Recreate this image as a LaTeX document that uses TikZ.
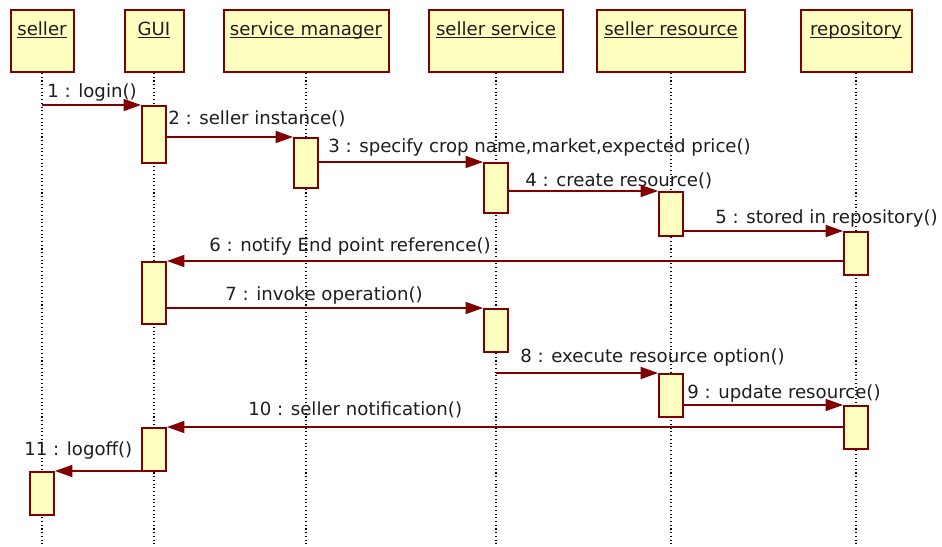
\documentclass[tikz,border=0pt]{standalone}
\usepackage{fontspec}
\setmainfont{DejaVu Sans}
\usetikzlibrary{arrows.meta}
\definecolor{umlborder}{HTML}{800000}
\definecolor{umlfill}{HTML}{FFFFC0}
\definecolor{umlline}{HTML}{A02828}
\definecolor{umltext}{HTML}{1E1E1E}
\newcommand{\objname}[1]{\underline{\smash{#1}}}
\tikzset{
  headbox/.style={draw=umlborder, line width=1.5pt, fill=umlfill, minimum height=46.5pt, inner sep=0pt},
  actbox/.style={draw=umlborder, line width=1.5pt, fill=umlfill, minimum width=18pt, inner sep=0pt},
  lifeline/.style={draw=black, line width=0.8pt, dotted},
  msg/.style={draw=umlline, line width=1pt, -{Triangle[length=13pt,width=9pt]}, umlborder},
  msgtext/.style={anchor=west, inner sep=0pt, text=umltext, font=\fontsize{13.6pt}{15pt}\selectfont},
  headtext/.style={anchor=base, inner sep=0pt, text=umltext, font=\fontsize{13.6pt}{15pt}\selectfont}
}
\begin{document}
\begin{tikzpicture}[x=0.75pt, y=-0.75pt]
\useasboundingbox (0,0) rectangle (942,546);

% object heads
\node[headbox, minimum width=47.25pt] (seller) at (42,41) {};
\node[headbox, minimum width=44.25pt] (gui) at (154,41) {};
\node[headbox, minimum width=123.75pt] (mgr) at (306,41) {};
\node[headbox, minimum width=100.5pt] (ssvc) at (496,41) {};
\node[headbox, minimum width=111pt] (sres) at (671,41) {};
\node[headbox, minimum width=83.25pt] (repo) at (856,41) {};

\node[headtext] (tseller) at (42,35) {\objname{seller}};
\node[headtext] (tgui) at (154,35) {\objname{GUI}};
\node[headtext] (tmgr) at (306,35) {\objname{service manager}};
\node[headtext] (tssvc) at (496,35) {\objname{seller service}};
\node[headtext] (tsres) at (671,35) {\objname{seller resource}};
\node[headtext] (trepo) at (856,35) {\objname{repository}};

% lifelines
\coordinate (bottom) at (0,546);
\foreach \o in {seller,gui,mgr,ssvc,sres,repo}
  \draw[lifeline] (\o.south) -- (\o.south |- bottom);

% activation bars
\node[actbox, minimum height=42.75pt] (gui1) at (154,134.5) {};
\node[actbox, minimum height=37.5pt] (mgr1) at (306,163) {};
\node[actbox, minimum height=37.5pt] (ssvc1) at (496,188) {};
\node[actbox, minimum height=33pt] (sres1) at (671,214) {};
\node[actbox, minimum height=32.25pt] (repo1) at (856,253.5) {};
\node[actbox, minimum height=46.5pt] (gui2) at (154,293) {};
\node[actbox, minimum height=32.25pt] (ssvc2) at (496,330.5) {};
\node[actbox, minimum height=32.25pt] (sres2) at (671,395.5) {};
\node[actbox, minimum height=32.25pt] (repo2) at (856,427.5) {};
\node[actbox, minimum height=32.25pt] (gui3) at (154,449.5) {};
\node[actbox, minimum height=32.25pt] (seller1) at (42,493.5) {};

% messages
\draw[msg] (seller.south |- gui1.north west) -- (gui1.north west);
\draw[msg] (gui1.east |- mgr1.north west) -- (mgr1.north west);
\draw[msg] (mgr1.east |- ssvc1.north west) -- (ssvc1.north west);
\draw[msg] (ssvc1.east |- sres1.north west) -- (sres1.north west);
\draw[msg] (sres1.east |- repo1.north west) -- (repo1.north west);
\draw[msg] (repo1.west |- gui2.north east) -- (gui2.north east);
\draw[msg] (gui2.east |- ssvc2.north west) -- (ssvc2.north west);
\draw[msg] (ssvc.south |- sres2.north west) -- (sres2.north west);
\draw[msg] (sres2.east |- repo2.north west) -- (repo2.north west);
\draw[msg] (repo2.west |- gui3.north east) -- (gui3.north east);
\draw[msg] (gui3.west |- seller1.north east) -- (seller1.north east);

% message labels
\node[msgtext] (m1) at (47,92) {1 : login()};
\node[msgtext] (m2) at (168,119) {2 : seller instance()};
\node[msgtext] (m3) at (328,147) {3 : specify crop name,market,expected price()};
\node[msgtext] (m4) at (525,181) {4 : create resource()};
\node[msgtext] (m5) at (715,218) {5 : stored in repository()};
\node[msgtext] (m6) at (209,246) {6 : notify End point reference()};
\node[msgtext] (m7) at (225,295) {7 : invoke operation()};
\node[msgtext] (m8) at (520,357) {8 : execute resource option()};
\node[msgtext] (m9) at (687,393) {9 : update resource()};
\node[msgtext] (m10) at (248,410) {10 : seller notification()};
\node[msgtext] (m11) at (24,450) {11 : logoff()};
\end{tikzpicture}
\end{document}
